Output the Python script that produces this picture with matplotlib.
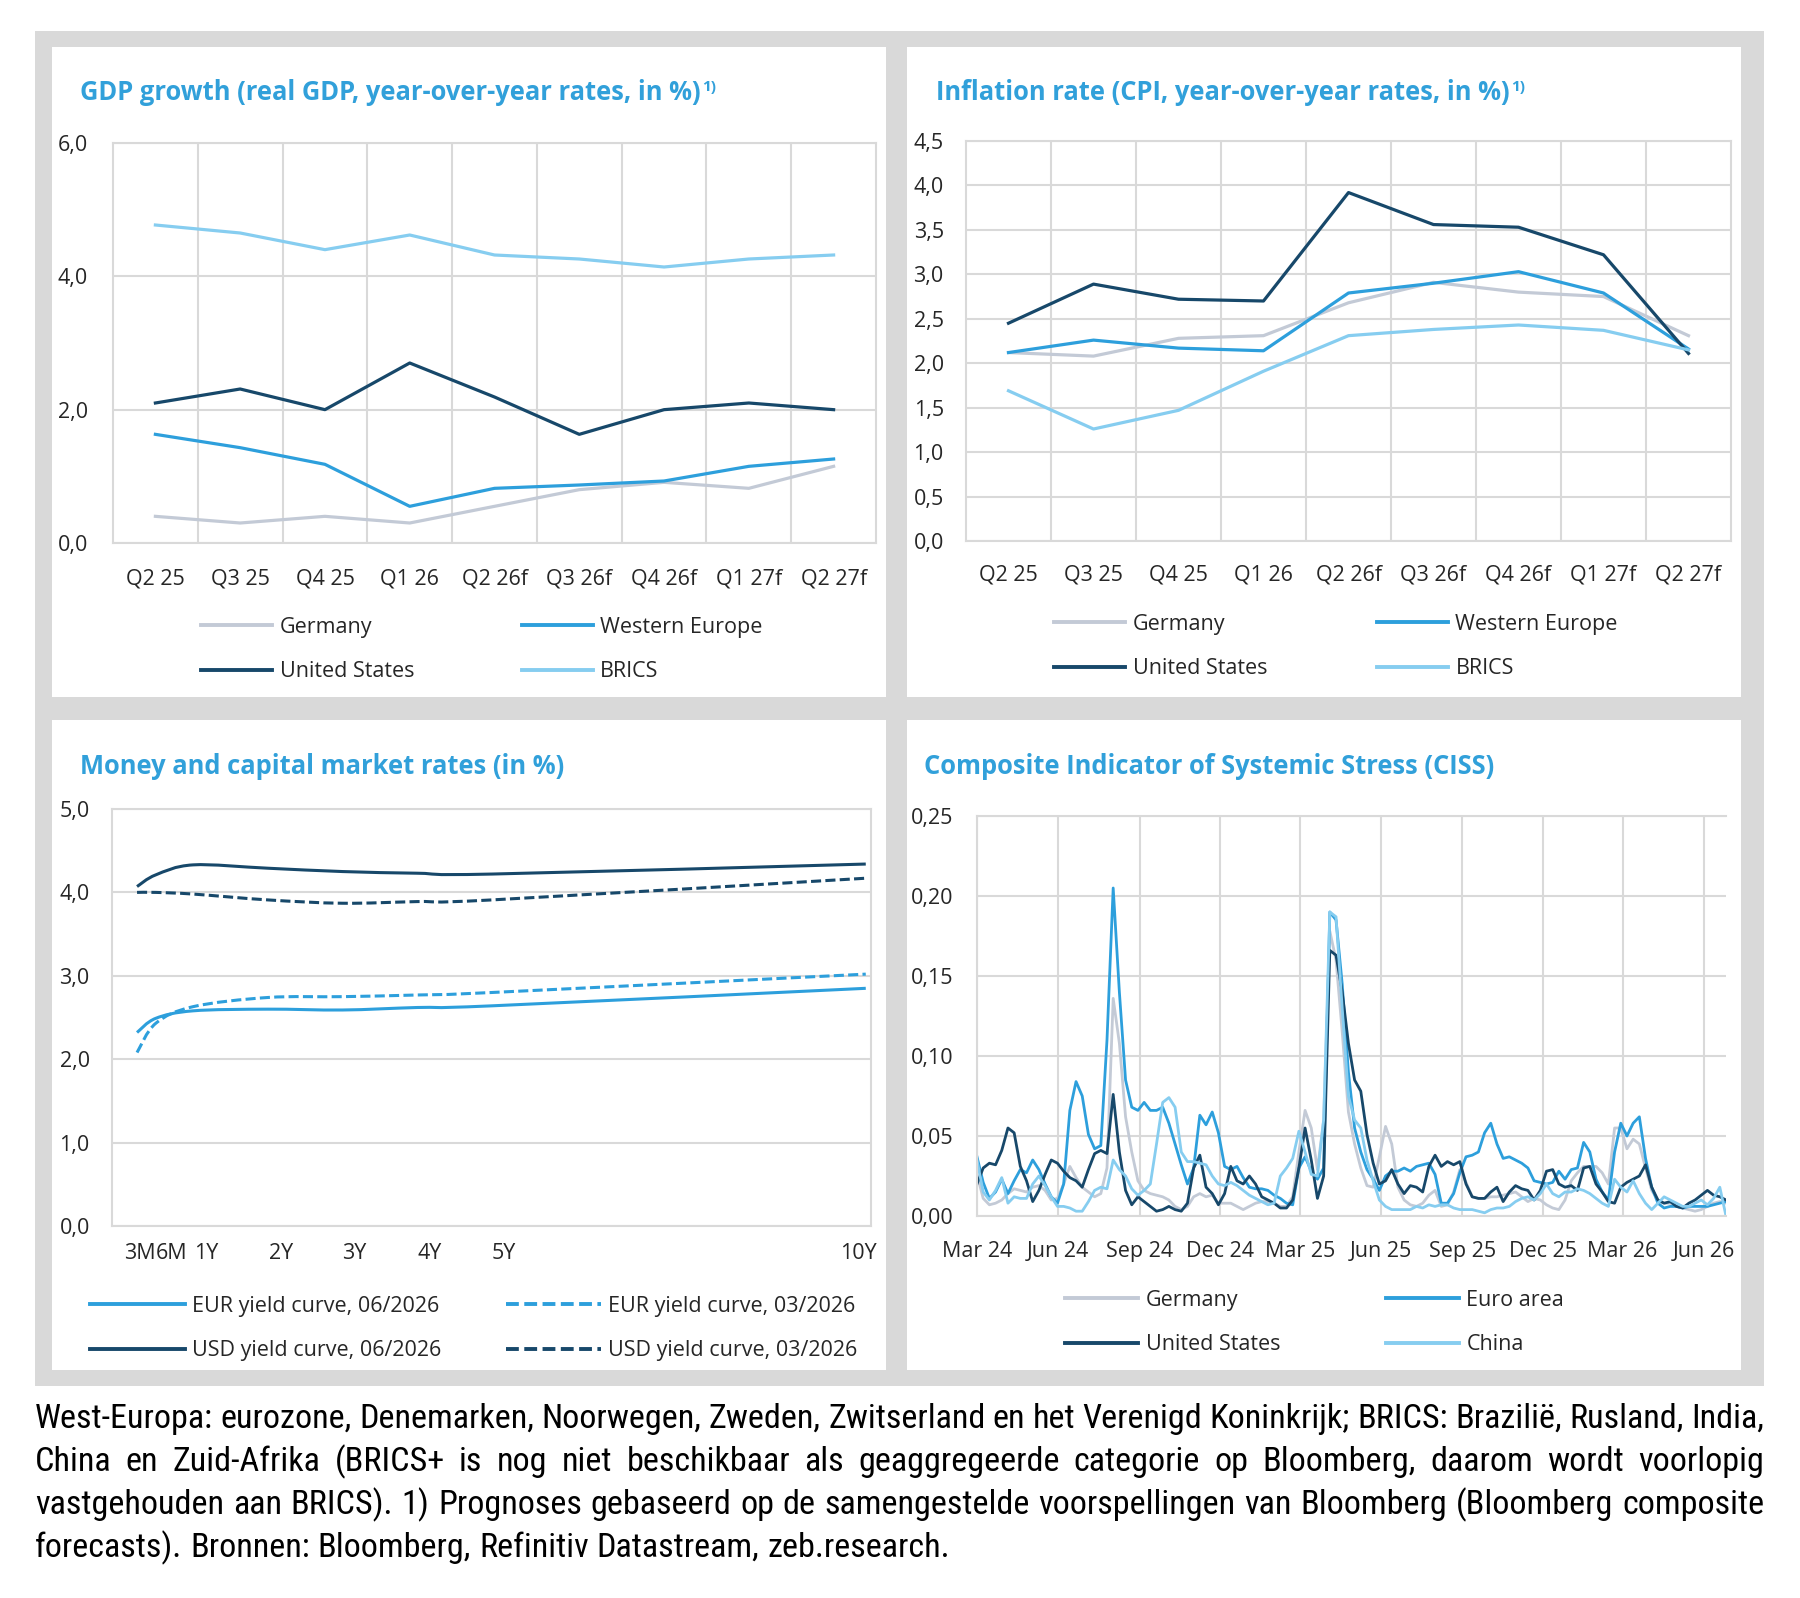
import matplotlib

matplotlib.use("Agg")

import matplotlib.dates as mdates
import matplotlib.pyplot as plt
import numpy as np
import pandas as pd
from matplotlib.lines import Line2D
from matplotlib.patches import PathPatch, Rectangle
from matplotlib.path import Path
from matplotlib.ticker import FixedLocator, FuncFormatter
from matplotlib.transforms import ScaledTranslation


W, H = 1800, 1598
DPI = 100

# --- GDP / inflation (quarterly, forecasts marked with f) ---
QUARTERS = ["Q2 25", "Q3 25", "Q4 25", "Q1 26", "Q2 26f", "Q3 26f", "Q4 26f", "Q1 27f", "Q2 27f"]

GDP_GERMANY = [0.40, 0.30, 0.40, 0.30, 0.55, 0.80, 0.91, 0.82, 1.15]
GDP_WESTERN_EUROPE = [1.63, 1.43, 1.18, 0.55, 0.82, 0.87, 0.93, 1.15, 1.26]
GDP_UNITED_STATES = [2.10, 2.31, 2.00, 2.70, 2.19, 1.63, 2.00, 2.10, 2.00]
GDP_BRICS = [4.77, 4.65, 4.40, 4.62, 4.32, 4.26, 4.14, 4.26, 4.32]

CPI_GERMANY = [2.12, 2.08, 2.28, 2.31, 2.68, 2.91, 2.80, 2.75, 2.31]
CPI_WESTERN_EUROPE = [2.12, 2.26, 2.17, 2.14, 2.79, 2.90, 3.03, 2.79, 2.16]
CPI_UNITED_STATES = [2.45, 2.89, 2.72, 2.70, 3.92, 3.56, 3.53, 3.22, 2.11]
CPI_BRICS = [1.69, 1.26, 1.47, 1.91, 2.31, 2.38, 2.43, 2.37, 2.15]

# --- yield curves ---
TENOR_LABELS = ["3M", "6M", "1Y", "2Y", "3Y", "4Y", "5Y", "10Y"]
TENOR_YEARS = [0.25, 0.5, 1, 2, 3, 4, 5, 10]
EUR_06_2026 = [2.32, 2.49, 2.58, 2.60, 2.59, 2.62, 2.64, 2.85]
EUR_03_2026 = [2.08, 2.43, 2.63, 2.74, 2.75, 2.77, 2.80, 3.02]
USD_06_2026 = [4.07, 4.21, 4.33, 4.29, 4.25, 4.23, 4.22, 4.34]
USD_03_2026 = [4.00, 4.00, 3.98, 3.91, 3.87, 3.89, 3.91, 4.17]

# --- CISS, weekly from 1 March 2024 ---
CISS_START = "2024-03-01"
CISS_GERMANY = [
    0.026, 0.011, 0.007, 0.008, 0.010, 0.014, 0.017, 0.016, 0.015, 0.018,
    0.019, 0.016, 0.010, 0.011, 0.020, 0.031, 0.024, 0.018, 0.015, 0.012,
    0.014, 0.030, 0.136, 0.108, 0.062, 0.040, 0.022, 0.016, 0.014, 0.013,
    0.012, 0.010, 0.006, 0.004, 0.006, 0.012, 0.014, 0.012, 0.013, 0.008,
    0.008, 0.008, 0.006, 0.004, 0.006, 0.008, 0.009, 0.009, 0.008, 0.006,
    0.006, 0.012, 0.040, 0.066, 0.055, 0.029, 0.060, 0.178, 0.160, 0.115,
    0.065, 0.045, 0.030, 0.019, 0.018, 0.037, 0.056, 0.045, 0.018, 0.010,
    0.007, 0.006, 0.008, 0.013, 0.016, 0.006, 0.007, 0.015, 0.029, 0.021,
    0.012, 0.011, 0.011, 0.012, 0.012, 0.013, 0.014, 0.015, 0.012, 0.009,
    0.011, 0.010, 0.007, 0.005, 0.004, 0.010, 0.022, 0.027, 0.031, 0.031,
    0.031, 0.027, 0.020, 0.055, 0.055, 0.042, 0.048, 0.045, 0.030, 0.016,
    0.010, 0.008, 0.008, 0.006, 0.005, 0.004, 0.003, 0.004, 0.006, 0.008,
    0.009, 0.008,
]
CISS_EURO_AREA = [
    0.037, 0.021, 0.011, 0.015, 0.023, 0.014, 0.022, 0.029, 0.027, 0.035,
    0.029, 0.020, 0.012, 0.008, 0.020, 0.066, 0.084, 0.075, 0.051, 0.042,
    0.044, 0.110, 0.205, 0.140, 0.085, 0.068, 0.066, 0.071, 0.066, 0.066,
    0.068, 0.058, 0.045, 0.032, 0.020, 0.030, 0.063, 0.057, 0.065, 0.052,
    0.031, 0.029, 0.031, 0.024, 0.018, 0.017, 0.017, 0.016, 0.013, 0.011,
    0.008, 0.007, 0.030, 0.037, 0.028, 0.023, 0.030, 0.190, 0.185, 0.145,
    0.090, 0.055, 0.040, 0.029, 0.023, 0.016, 0.025, 0.028, 0.028, 0.030,
    0.028, 0.031, 0.032, 0.033, 0.026, 0.008, 0.008, 0.014, 0.027, 0.037,
    0.038, 0.040, 0.052, 0.058, 0.045, 0.036, 0.037, 0.035, 0.033, 0.030,
    0.022, 0.021, 0.020, 0.021, 0.028, 0.023, 0.029, 0.030, 0.046, 0.040,
    0.023, 0.015, 0.010, 0.040, 0.058, 0.050, 0.058, 0.062, 0.036, 0.018,
    0.008, 0.005, 0.006, 0.006, 0.005, 0.006, 0.006, 0.006, 0.006, 0.007,
    0.008, 0.009,
]
CISS_UNITED_STATES = [
    0.020, 0.030, 0.033, 0.032, 0.041, 0.055, 0.052, 0.031, 0.022, 0.009,
    0.016, 0.026, 0.035, 0.033, 0.028, 0.024, 0.022, 0.018, 0.029, 0.039,
    0.041, 0.039, 0.076, 0.040, 0.016, 0.007, 0.012, 0.009, 0.006, 0.003,
    0.004, 0.006, 0.004, 0.003, 0.008, 0.030, 0.038, 0.018, 0.014, 0.007,
    0.014, 0.031, 0.022, 0.020, 0.025, 0.020, 0.012, 0.010, 0.008, 0.005,
    0.005, 0.010, 0.030, 0.055, 0.035, 0.011, 0.025, 0.166, 0.163, 0.140,
    0.108, 0.085, 0.078, 0.051, 0.033, 0.020, 0.022, 0.029, 0.020, 0.014,
    0.019, 0.018, 0.015, 0.031, 0.038, 0.031, 0.034, 0.032, 0.034, 0.020,
    0.012, 0.011, 0.011, 0.015, 0.018, 0.009, 0.015, 0.019, 0.017, 0.016,
    0.010, 0.016, 0.028, 0.029, 0.020, 0.018, 0.019, 0.016, 0.030, 0.031,
    0.020, 0.015, 0.009, 0.008, 0.018, 0.021, 0.023, 0.025, 0.032, 0.018,
    0.010, 0.008, 0.009, 0.006, 0.005, 0.008, 0.010, 0.013, 0.016, 0.013,
    0.012, 0.010,
]
CISS_CHINA = [
    0.035, 0.015, 0.010, 0.016, 0.024, 0.008, 0.012, 0.011, 0.011, 0.020,
    0.025, 0.019, 0.012, 0.006, 0.006, 0.005, 0.003, 0.003, 0.009, 0.016,
    0.018, 0.017, 0.035, 0.029, 0.025, 0.017, 0.013, 0.016, 0.020, 0.045,
    0.071, 0.074, 0.068, 0.040, 0.034, 0.034, 0.033, 0.032, 0.025, 0.020,
    0.019, 0.021, 0.019, 0.016, 0.013, 0.011, 0.009, 0.007, 0.008, 0.025,
    0.030, 0.036, 0.053, 0.040, 0.026, 0.025, 0.060, 0.190, 0.187, 0.130,
    0.075, 0.060, 0.055, 0.035, 0.022, 0.010, 0.006, 0.004, 0.004, 0.004,
    0.004, 0.006, 0.005, 0.007, 0.006, 0.007, 0.007, 0.005, 0.004, 0.004,
    0.004, 0.003, 0.002, 0.004, 0.005, 0.005, 0.006, 0.009, 0.011, 0.012,
    0.010, 0.014, 0.020, 0.014, 0.012, 0.015, 0.015, 0.017, 0.016, 0.014,
    0.011, 0.008, 0.006, 0.023, 0.018, 0.015, 0.022, 0.014, 0.008, 0.004,
    0.008, 0.012, 0.010, 0.008, 0.006, 0.006, 0.008, 0.010, 0.007, 0.011,
    0.018, 0.000,
]

FOOTNOTE_LINES = [
    "West-Europa: eurozone, Denemarken, Noorwegen, Zweden, Zwitserland en het Verenigd Koninkrijk; BRICS: Brazilië, Rusland, India,",
    "China en Zuid-Afrika (BRICS+ is nog niet beschikbaar als geaggregeerde categorie op Bloomberg, daarom wordt voorlopig",
    "vastgehouden aan BRICS). 1) Prognoses gebaseerd op de samengestelde voorspellingen van Bloomberg (Bloomberg composite",
    "forecasts). Bronnen: Bloomberg, Refinitiv Datastream, zeb.research.",
]

GREY = "#c3cad6"
MID_BLUE = "#2d9fdc"
NAVY = "#17486a"
LIGHT_BLUE = "#86cdf0"
TITLE_BLUE = "#31a0da"
GRID = "#d9d9d9"
TEXT = "#262626"

FONT = ["Open Sans", "DejaVu Sans"]
FOOT_FONT = ["Roboto Condensed", "Open Sans Condensed", "Liberation Sans Narrow", "Roboto", "DejaVu Sans"]
TICK_SIZE = 15.5
LEGEND_SIZE = 15.5
TITLE_SIZE = 18.4

plt.rcParams["font.family"] = FONT
plt.rcParams["text.color"] = TEXT


def fig_rect(x0, y0, x1, y1):
    # pixel box (top-left origin) -> figure fraction rect
    return [x0 / W, 1 - y1 / H, (x1 - x0) / W, (y1 - y0) / H]


def comma_formatter(decimals):
    return FuncFormatter(lambda v, _: f"{v:.{decimals}f}".replace(".", ","))


def style_axes(ax, ypad, xpad):
    ax.set_facecolor("white")
    for side in ax.spines.values():
        side.set_color(GRID)
        side.set_linewidth(1.5)
    ax.tick_params(axis="both", which="both", length=0, labelsize=TICK_SIZE, colors=TEXT)
    ax.tick_params(axis="y", pad=ypad)
    ax.tick_params(axis="x", pad=xpad)
    ax.set_axisbelow(True)


def add_legend(ax, handles, labels, x, y_center, handlelength, columnspacing):
    leg = ax.legend(
        handles,
        labels,
        ncol=2,
        loc="upper left",
        bbox_to_anchor=(x / W, 1 - (y_center - 7) / H),
        bbox_transform=ax.figure.transFigure,
        frameon=False,
        fontsize=LEGEND_SIZE,
        handlelength=handlelength,
        handletextpad=0.35,
        columnspacing=columnspacing,
        labelspacing=1.08,
        borderpad=0,
        borderaxespad=0,
    )
    for t in leg.get_texts():
        t.set_color(TEXT)
    return leg


def add_title(fig, x, y_center, text, note=None):
    title = fig.text(
        x / W, 1 - y_center / H, text,
        fontsize=TITLE_SIZE, fontweight="bold", color=TITLE_BLUE, va="center", ha="left",
    )
    if note:
        fig.add_artist(matplotlib.text.Annotation(
            note, xy=(1.0, 1.0), xycoords=title, xytext=(1, 0), textcoords="offset points",
            fontsize=11, fontweight="bold", color=TITLE_BLUE, va="top", ha="left",
            annotation_clip=False,
        ))
    return title


def smooth_path(x, y):
    # Catmull-Rom style bezier through the points (Excel "smoothed line")
    pts = np.column_stack([x, y]).astype(float)
    verts = [pts[0]]
    codes = [Path.MOVETO]
    last = len(pts) - 1
    for i in range(last):
        p0 = pts[max(i - 1, 0)]
        p1, p2 = pts[i], pts[i + 1]
        p3 = pts[min(i + 2, last)]
        verts += [p1 + (p2 - p0) / 6, p2 - (p3 - p1) / 6, p2]
        codes += [Path.CURVE4] * 3
    return Path(verts, codes)


def quarterly_panel(fig, rect, series, ylim, ystep, decimals, ypad, xpad, legend_pos):
    ax = fig.add_axes(rect)
    style_axes(ax, ypad, xpad)
    x = np.arange(len(QUARTERS))
    handles = []
    for label, values, color in series:
        ax.plot(x, values, color=color, lw=2.3, solid_joinstyle="round")
        handles.append(Line2D([], [], color=color, lw=2.8))
    ax.set_xlim(-0.5, len(QUARTERS) - 0.5)
    ax.set_ylim(*ylim)
    ax.set_xticks(x)
    ax.set_xticklabels(QUARTERS)
    ax.set_yticks(np.arange(ylim[0], ylim[1] + ystep / 2, ystep))
    ax.yaxis.set_major_formatter(comma_formatter(decimals))
    ax.xaxis.set_minor_locator(FixedLocator(np.arange(0.5, len(QUARTERS) - 0.5, 1)))
    ax.grid(axis="y", which="major", color=GRID, lw=1.5)
    ax.grid(axis="x", which="minor", color=GRID, lw=1.5)
    order = [0, 2, 1, 3]
    add_legend(
        ax,
        [handles[i] for i in order],
        [series[i][0] for i in order],
        legend_pos[0], legend_pos[1], 3.3, legend_pos[2],
    )
    return ax


fig = plt.figure(figsize=(W / DPI, H / DPI), dpi=DPI)
fig.patch.set_facecolor("white")

# grey frame with four white panels
fig.add_artist(Rectangle((35 / W, 1 - 1386 / H), (1764 - 35) / W, (1386 - 31) / H,
                         transform=fig.transFigure, facecolor="#d9d9d9", edgecolor="none", zorder=-10))
for x0, y0, x1, y1 in [(52, 47, 886, 697), (907, 47, 1741, 697), (52, 720, 886, 1370), (907, 720, 1741, 1370)]:
    fig.add_artist(Rectangle((x0 / W, 1 - y1 / H), (x1 - x0) / W, (y1 - y0) / H,
                             transform=fig.transFigure, facecolor="white", edgecolor="none", zorder=-9))

# --- GDP panel ---
quarterly_panel(
    fig, fig_rect(113, 143, 876, 543),
    [("Germany", GDP_GERMANY, GREY), ("Western Europe", GDP_WESTERN_EUROPE, MID_BLUE),
     ("United States", GDP_UNITED_STATES, NAVY), ("BRICS", GDP_BRICS, LIGHT_BLUE)],
    (0, 6), 2, 1, 18, 18, (201, 624, 5.0),
)
add_title(fig, 80, 93, "GDP growth (real GDP, year-over-year rates, in %)", "1)")

# --- inflation panel ---
quarterly_panel(
    fig, fig_rect(966, 141, 1731, 541),
    [("Germany", CPI_GERMANY, GREY), ("Western Europe", CPI_WESTERN_EUROPE, MID_BLUE),
     ("United States", CPI_UNITED_STATES, NAVY), ("BRICS", CPI_BRICS, LIGHT_BLUE)],
    (0, 4.5), 0.5, 1, 16, 17, (1054, 621, 5.1),
)
add_title(fig, 936, 93, "Inflation rate (CPI, year-over-year rates, in %)", "1)")

# --- yield curves ---
ax = fig.add_axes(fig_rect(112, 809, 871, 1226))
style_axes(ax, 16, 12)
curves = [
    ("EUR yield curve, 06/2026", EUR_06_2026, MID_BLUE, "-"),
    ("USD yield curve, 06/2026", USD_06_2026, NAVY, "-"),
    ("EUR yield curve, 03/2026", EUR_03_2026, MID_BLUE, (0, (3.3, 1.4))),
    ("USD yield curve, 03/2026", USD_03_2026, NAVY, (0, (3.3, 1.4))),
]
handles = []
for label, values, color, ls in curves:
    ax.add_patch(PathPatch(smooth_path(TENOR_YEARS, values), fill=False, edgecolor=color,
                           lw=2.2, linestyle=ls, capstyle="butt"))
    handles.append(Line2D([], [], color=color, lw=2.8, linestyle=ls))
ax.set_xlim(-0.085, 10.07)
ax.set_ylim(0, 5)
ax.set_yticks(np.arange(0, 5.5, 1))
ax.yaxis.set_major_formatter(comma_formatter(1))
ax.set_xticks(TENOR_YEARS)
ax.set_xticklabels(TENOR_LABELS)
# the short-end labels sit shoulder to shoulder in the original
label_shift_px = [3, 16, 13, 13, 12, 12, 12, -7]
for lab, dx in zip(ax.get_xticklabels(), label_shift_px):
    lab.set_transform(lab.get_transform() + ScaledTranslation(dx / DPI, 0, fig.dpi_scale_trans))
ax.grid(axis="y", color=GRID, lw=1.5)
add_legend(ax, handles, [c[0] for c in curves], 90, 1303, 4.4, 3.0)
add_title(fig, 80, 767, "Money and capital market rates (in %)")

# --- CISS ---
dates = pd.date_range(CISS_START, periods=len(CISS_GERMANY), freq="7D")
ax = fig.add_axes(fig_rect(977, 816, 1726, 1216))
style_axes(ax, 17, 18)
ax.spines["right"].set_visible(False)
ciss = [
    ("Germany", CISS_GERMANY, GREY),
    ("Euro area", CISS_EURO_AREA, MID_BLUE),
    ("United States", CISS_UNITED_STATES, NAVY),
    ("China", CISS_CHINA, LIGHT_BLUE),
]
handles = []
for label, values, color in ciss:
    ax.plot(dates, values, color=color, lw=2.0, solid_joinstyle="round")
    handles.append(Line2D([], [], color=color, lw=2.8))
ax.set_xlim(dates[0], dates[-1])
ax.set_ylim(0, 0.25)
ax.set_yticks(np.arange(0, 0.26, 0.05))
ax.yaxis.set_major_formatter(comma_formatter(2))
ax.xaxis.set_major_locator(mdates.MonthLocator(bymonth=[3, 6, 9, 12]))
ax.xaxis.set_major_formatter(mdates.DateFormatter("%b %y"))
ax.grid(axis="both", color=GRID, lw=1.5)
order = [0, 2, 1, 3]
add_legend(ax, [handles[i] for i in order], [ciss[i][0] for i in order], 1065, 1297, 3.4, 4.9)
add_title(fig, 924, 767, "Composite Indicator of Systemic Stress (CISS)")

# --- justified footnote ---
renderer = fig.canvas.get_renderer()
left_px, right_px = 35, 1764
probe = fig.text(0, 0, FOOTNOTE_LINES[0], fontsize=20, family=FOOT_FONT)
foot_size = 20 * (right_px - left_px) / probe.get_window_extent(renderer).width
probe.remove()

for row, line in enumerate(FOOTNOTE_LINES):
    y = 1 - (1419 + row * 43) / H
    words = line.split(" ")
    texts = [fig.text(0, y, w, fontsize=foot_size, family=FOOT_FONT, color="black", va="center")
             for w in words]
    widths = [t.get_window_extent(renderer).width for t in texts]
    if row < len(FOOTNOTE_LINES) - 1:
        gap = (right_px - left_px - sum(widths)) / (len(words) - 1)
    else:
        space = fig.text(0, 0, "a a", fontsize=foot_size, family=FOOT_FONT)
        aa = fig.text(0, 0, "aa", fontsize=foot_size, family=FOOT_FONT)
        gap = space.get_window_extent(renderer).width - aa.get_window_extent(renderer).width
        space.remove()
        aa.remove()
    x = left_px
    for t, w in zip(texts, widths):
        t.set_x(x / W)
        x += w + gap

fig.savefig("out.png", dpi=DPI, facecolor="white")
